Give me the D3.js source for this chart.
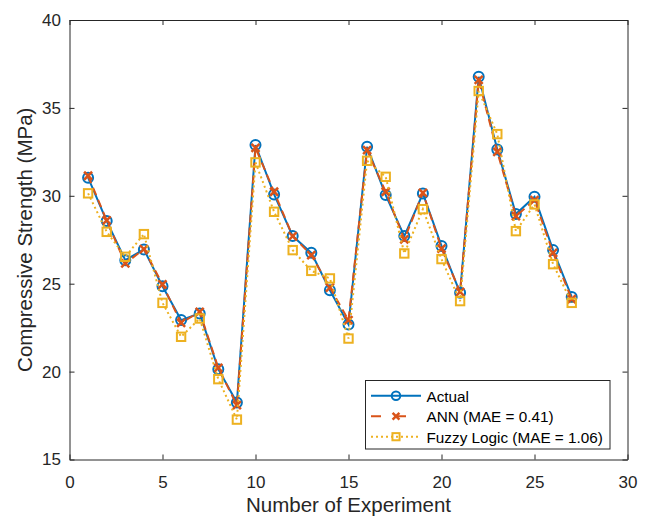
<!DOCTYPE html>
<html>
<head>
<meta charset="utf-8">
<script src="https://cdn.jsdelivr.net/npm/d3@7"></script>
<style>
body { margin: 0; background: #fff; }
text { font-family: "Liberation Sans", Arial, sans-serif; fill: #262626; }
</style>
</head>
<body>
<div id="chart"></div>
<script>
let w = 651;
let h = 521;

// experiment numbers 1..27
const experiments = [1,2,3,4,5,6,7,8,9,10,11,12,13,14,15,16,17,18,19,20,21,22,23,24,25,26,27];
const actual = [31.03,28.56,26.34,26.95,24.86,22.93,23.31,20.14,18.24,32.89,30.08,27.71,26.76,24.63,22.68,32.79,30.04,27.71,30.13,27.15,24.48,36.77,32.64,28.96,29.94,26.91,24.25];
const ann = [31.14,28.6,26.15,26.97,24.96,22.77,23.4,20.21,18.09,32.73,30.23,27.7,26.63,24.78,22.93,32.6,30.23,27.52,30.17,27.0,24.54,36.59,32.5,28.85,29.76,26.76,24.12];
const fuzzy = [30.14,27.95,26.53,27.82,23.91,21.98,23.02,19.57,17.27,31.9,29.09,26.91,25.73,25.3,21.88,31.99,31.08,26.72,29.24,26.4,24.01,35.96,33.51,27.99,29.51,26.11,23.91];
const xTicks = [0,5,10,15,20,25,30];
const yTicks = [15,20,25,30,35,40];
const legendLabels = ["Actual", "ANN (MAE = 0.41)", "Fuzzy Logic (MAE = 1.06)"];

const colors = ["#0072BD", "#D95319", "#EDB120"];

let margin = {left: 69.5, right: 23.5, top: 20, bottom: 61.5};

let svg = d3.select("#chart")
    .append("svg")
    .attr("width", w)
    .attr("height", h);

let xScale = d3.scaleLinear().domain([0, 30]).range([margin.left, w - margin.right]);
let yScale = d3.scaleLinear().domain([15, 40]).range([h - margin.bottom, margin.top]);

const axisColor = "#262626";

// axes (ticks inside, box on all sides)
let xAxis = d3.axisBottom(xScale).tickValues(xTicks).tickSizeInner(-5).tickSizeOuter(0).tickPadding(16);
let yAxis = d3.axisLeft(yScale).tickValues(yTicks).tickSizeInner(-5).tickSizeOuter(0).tickPadding(8.5);
let xTop = d3.axisTop(xScale).tickValues(xTicks).tickSizeInner(-5).tickSizeOuter(0).tickFormat("");
let yRight = d3.axisRight(yScale).tickValues(yTicks).tickSizeInner(-5).tickSizeOuter(0).tickFormat("");

function styleAxis(g) {
    g.selectAll("path").attr("stroke", axisColor).attr("stroke-width", 1);
    g.selectAll("line").attr("stroke", axisColor).attr("stroke-width", 1);
    g.selectAll("text").attr("font-size", 17).attr("fill", axisColor)
        .style("font-family", "'Liberation Sans', Arial, sans-serif");
}

svg.append("g").attr("transform", "translate(0," + yScale(15) + ")").call(xAxis).call(styleAxis);
svg.append("g").attr("transform", "translate(" + xScale(0) + ",0)").call(yAxis).call(styleAxis);
svg.append("g").attr("transform", "translate(0," + yScale(40) + ")").call(xTop).call(styleAxis);
svg.append("g").attr("transform", "translate(" + xScale(30) + ",0)").call(yRight).call(styleAxis);

// axis labels
svg.append("text")
    .attr("x", xScale(15))
    .attr("y", 512)
    .attr("text-anchor", "middle")
    .attr("font-size", 20.5)
    .text("Number of Experiment");

svg.append("text")
    .attr("transform", "translate(32," + yScale(27.5) + ") rotate(-90)")
    .attr("text-anchor", "middle")
    .attr("font-size", 20.5)
    .text("Compressive Strength (MPa)");

let series = [
    {values: actual, color: colors[0], dash: null, marker: "circle"},
    {values: ann, color: colors[1], dash: "8,5", marker: "cross"},
    {values: fuzzy, color: colors[2], dash: "2,3", marker: "square"}
];

let line = d3.line()
    .x((d, i) => xScale(experiments[i]))
    .y(d => yScale(d));

function drawMarker(g, type, x, y, color, k) {
    k = k || 1;
    if (type === "circle") {
        g.append("circle").attr("cx", x).attr("cy", y).attr("r", 5 * k)
            .attr("fill", "none").attr("stroke", color).attr("stroke-width", 2);
    } else if (type === "cross") {
        let s = 4 * k;
        g.append("path")
            .attr("d", `M${x-s},${y-s}L${x+s},${y+s}M${x-s},${y+s}L${x+s},${y-s}`)
            .attr("stroke", color).attr("stroke-width", 2.5).attr("fill", "none");
    } else {
        let s = 4.2 * k;
        g.append("rect").attr("x", x - s).attr("y", y - s).attr("width", 2*s).attr("height", 2*s)
            .attr("fill", "none").attr("stroke", color).attr("stroke-width", 2);
    }
}

series.forEach(s => {
    let g = svg.append("g");
    g.append("path")
        .datum(s.values)
        .attr("d", line)
        .attr("fill", "none")
        .attr("stroke", s.color)
        .attr("stroke-width", 2)
        .attr("stroke-dasharray", s.dash);
    s.values.forEach((v, i) => drawMarker(g, s.marker, xScale(experiments[i]), yScale(v), s.color));
});

// legend
let lg = svg.append("g");
lg.append("rect")
    .attr("x", 365.5).attr("y", 380.5)
    .attr("width", 244.5).attr("height", 68.5)
    .attr("fill", "#fff").attr("stroke", axisColor).attr("stroke-width", 1);

let legendDash = [null, "10,15", "2,3"];
series.forEach((s, i) => {
    let y = 395.7 + i * 20.5;
    lg.append("line")
        .attr("x1", 371).attr("x2", 421).attr("y1", y).attr("y2", y)
        .attr("stroke", s.color).attr("stroke-width", 2)
        .attr("stroke-dasharray", legendDash[i]);
    drawMarker(lg, s.marker, 396, y, s.color, 0.85);
    lg.append("text")
        .attr("x", 426.5).attr("y", y + 5.8)
        .attr("font-size", 15.3)
        .style("fill", "#000")
        .text(legendLabels[i]);
});
</script>
</body>
</html>
